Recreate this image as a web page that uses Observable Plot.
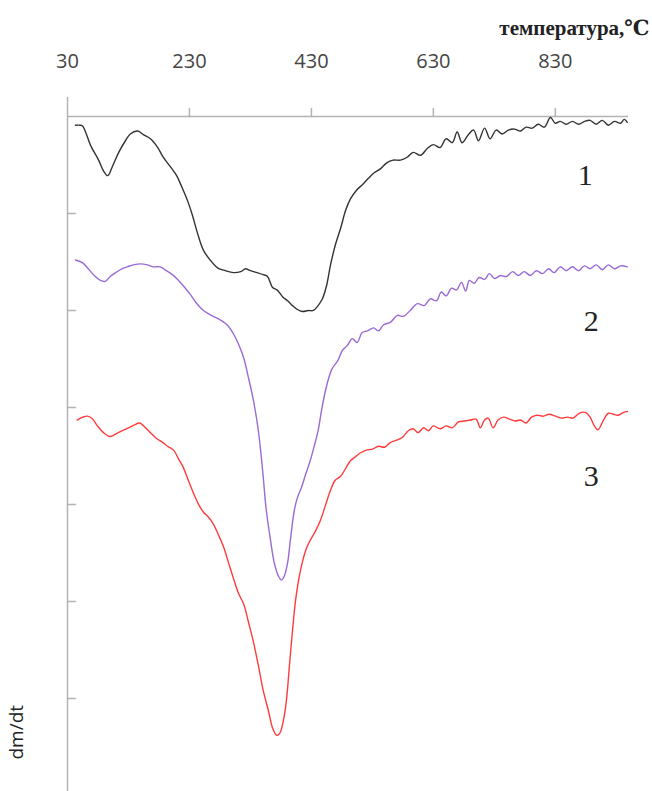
<!DOCTYPE html>
<html>
<head>
<meta charset="utf-8">
<script src="https://cdn.jsdelivr.net/npm/d3@7"></script>
<script src="https://cdn.jsdelivr.net/npm/@observablehq/plot@0.6"></script>
<style>
  html, body { margin: 0; padding: 0; background: #fff; }
</style>
</head>
<body>
<div id="chart"></div>
<script>
// Temperature axis ticks (°C) and dm/dt grid ticks (arbitrary units)
const xTicks = [30, 230, 430, 630, 830];
const yTicks = [-1, -2, -3, -4, -5, -6];
const xTitle = "температура,℃";
const yTitle = "dm/dt";

// Curve 1 (black)
const temp1 = [43,51,55,68,81,89,96,104,114,125,133,145,155,166,178,187,199,209,217,227,235,243,253,264,276,289,302,314,322,330,341,351,358,366,374,383,391,399,407,415,425,433,441,448,455,461,469,478,486,494,504,514,523,533,543,553,564,576,587,597,609,620,630,641,651,661,669,677,687,696,704,714,723,733,743,753,763,773,782,792,802,812,822,830,838,848,858,868,878,887,897,907,917,927,937,943,948];
const dmdt1 = [-0.09,-0.09,-0.10,-0.30,-0.45,-0.56,-0.61,-0.51,-0.37,-0.25,-0.18,-0.15,-0.19,-0.23,-0.32,-0.42,-0.52,-0.61,-0.72,-0.87,-1.02,-1.20,-1.38,-1.48,-1.56,-1.59,-1.61,-1.60,-1.57,-1.59,-1.61,-1.63,-1.65,-1.76,-1.79,-1.86,-1.90,-1.95,-1.99,-2.01,-2.00,-2.00,-1.95,-1.88,-1.74,-1.54,-1.33,-1.15,-0.97,-0.85,-0.76,-0.70,-0.64,-0.58,-0.54,-0.48,-0.45,-0.45,-0.42,-0.37,-0.40,-0.33,-0.29,-0.32,-0.23,-0.27,-0.16,-0.27,-0.19,-0.14,-0.25,-0.12,-0.23,-0.14,-0.18,-0.14,-0.13,-0.15,-0.11,-0.12,-0.08,-0.11,-0.01,-0.07,-0.05,-0.08,-0.05,-0.08,-0.05,-0.04,-0.08,-0.04,-0.09,-0.05,-0.07,-0.03,-0.06];

// Curve 2 (purple)
const temp2 = [43,55,64,74,84,92,100,109,119,128,138,150,161,171,182,192,202,212,222,232,241,251,260,269,281,292,302,310,319,327,335,343,350,356,363,369,376,381,386,391,396,402,407,414,420,428,435,441,448,456,464,473,481,489,497,505,513,522,532,540,548,560,571,581,592,604,615,625,635,643,651,660,668,676,683,689,697,705,714,722,730,740,750,760,769,779,789,799,809,819,828,838,848,858,868,878,887,897,907,917,927,937,948];
const dmdt2 = [-1.48,-1.51,-1.57,-1.64,-1.69,-1.70,-1.65,-1.61,-1.57,-1.55,-1.53,-1.52,-1.53,-1.55,-1.55,-1.59,-1.63,-1.69,-1.76,-1.84,-1.92,-1.99,-2.03,-2.06,-2.10,-2.15,-2.24,-2.34,-2.49,-2.70,-2.93,-3.24,-3.65,-4.06,-4.37,-4.60,-4.74,-4.78,-4.73,-4.60,-4.34,-4.06,-3.93,-3.82,-3.70,-3.55,-3.39,-3.24,-2.98,-2.75,-2.60,-2.52,-2.41,-2.36,-2.29,-2.33,-2.23,-2.21,-2.18,-2.21,-2.15,-2.12,-2.05,-2.06,-2.00,-1.93,-1.95,-1.88,-1.90,-1.81,-1.85,-1.77,-1.79,-1.71,-1.80,-1.69,-1.72,-1.66,-1.68,-1.62,-1.67,-1.64,-1.65,-1.60,-1.64,-1.60,-1.64,-1.59,-1.62,-1.57,-1.61,-1.55,-1.59,-1.55,-1.59,-1.54,-1.57,-1.53,-1.58,-1.53,-1.57,-1.54,-1.55];

// Curve 3 (red)
const temp3 = [46,55,63,71,79,89,100,110,120,130,140,148,158,166,176,186,194,204,212,220,228,237,245,253,261,269,278,286,294,302,310,319,327,335,343,351,360,366,373,378,384,389,394,399,404,409,415,422,428,437,445,453,461,469,478,486,494,502,510,520,530,540,550,560,569,579,589,597,605,614,622,630,641,651,661,671,681,691,700,707,714,720,728,736,745,755,764,773,782,791,800,810,820,830,840,850,859,869,879,887,894,900,909,917,925,933,942,948];
const dmdt3 = [-3.13,-3.10,-3.09,-3.12,-3.19,-3.26,-3.30,-3.27,-3.24,-3.21,-3.18,-3.16,-3.21,-3.26,-3.32,-3.36,-3.40,-3.44,-3.53,-3.62,-3.75,-3.89,-4.00,-4.08,-4.13,-4.20,-4.32,-4.44,-4.60,-4.76,-4.91,-5.03,-5.22,-5.42,-5.66,-5.92,-6.14,-6.30,-6.38,-6.36,-6.23,-6.02,-5.66,-5.30,-4.99,-4.78,-4.60,-4.45,-4.37,-4.27,-4.16,-4.01,-3.86,-3.75,-3.71,-3.63,-3.55,-3.51,-3.47,-3.44,-3.43,-3.40,-3.41,-3.36,-3.34,-3.31,-3.24,-3.22,-3.26,-3.21,-3.24,-3.19,-3.22,-3.19,-3.21,-3.15,-3.14,-3.13,-3.12,-3.21,-3.13,-3.11,-3.21,-3.13,-3.10,-3.12,-3.14,-3.13,-3.16,-3.10,-3.08,-3.09,-3.07,-3.09,-3.11,-3.10,-3.11,-3.06,-3.05,-3.10,-3.19,-3.23,-3.13,-3.06,-3.07,-3.08,-3.05,-3.04];

// Curve number labels
const curveLabels = ["1", "2", "3"];
const labelTemps = [879, 889, 889];
const labelValues = [-0.61, -2.11, -3.71];

const series = [
  {t: temp1, v: dmdt1, color: "#333333"},
  {t: temp2, v: dmdt2, color: "#9a6ad6"},
  {t: temp3, v: dmdt3, color: "#ff3b3b"}
];

const tickShape = {draw(context, l) { context.moveTo(0, 0); context.lineTo(0, -l); }};
const axisColor = "#b3b3b3";

const chart = Plot.plot({
  width: 652,
  height: 791,
  marginTop: 116,
  marginLeft: 67,
  marginRight: 24,
  marginBottom: 0,
  style: {fontFamily: "'Open Sans', sans-serif", background: "#fff", overflow: "visible"},
  x: {domain: [30, 950], axis: null},
  y: {domain: [-6.96, 0], axis: null},
  marks: [
    Plot.ruleY([0], {x1: 30, x2: 950, stroke: axisColor, strokeWidth: 1.5}),
    Plot.ruleX([30], {y1: -6.96, y2: 0.196, stroke: axisColor, strokeWidth: 1.5}),
    Plot.vector(xTicks.slice(1), {x: d => d, y: 0, length: 8, rotate: 0, anchor: "start", shape: tickShape, stroke: axisColor, strokeWidth: 1.5}),
    Plot.vector(yTicks, {x: 30, y: d => d, length: 8, rotate: 90, anchor: "start", shape: tickShape, stroke: axisColor, strokeWidth: 1.5}),
    Plot.text(xTicks, {x: d => d, y: 0, dy: -55, text: d => String(d), fontSize: 20, fill: "#444", fontFamily: "'Open Sans', sans-serif"}),
    Plot.text([xTitle], {frameAnchor: "top-right", dx: 21, dy: -96, textAnchor: "end", fontSize: 21, fontWeight: "bold", fontFamily: "'Liberation Serif', 'DejaVu Serif', serif", fill: "#222"}),
    Plot.text([yTitle], {frameAnchor: "bottom-left", dx: -45, dy: -32, rotate: -90, fontSize: 19, fill: "#222", fontFamily: "'Open Sans', sans-serif"}),
    ...series.map(s => Plot.line(s.t.map((t, i) => ({t, v: s.v[i]})), {x: "t", y: "v", stroke: s.color, strokeWidth: 1.4, curve: "catmull-rom"})),
    Plot.text(curveLabels, {x: (d, i) => labelTemps[i], y: (d, i) => labelValues[i], text: d => d, fontSize: 30, fill: "#222", fontFamily: "'Liberation Serif', 'Times New Roman', serif"})
  ]
});
document.getElementById("chart").appendChild(chart);
</script>
</body>
</html>
